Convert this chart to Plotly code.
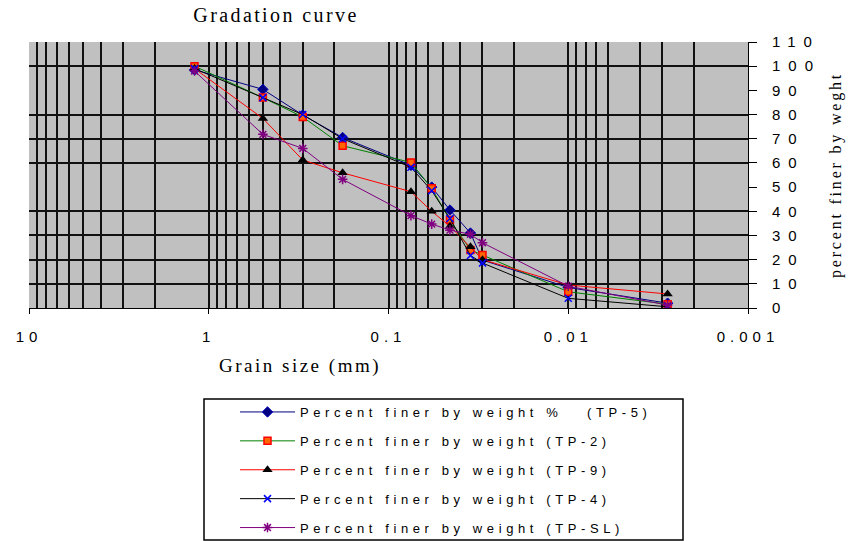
import plotly.graph_objects as go

# ---------------- data ----------------
grain_size_mm = [1.2, 0.5, 0.3, 0.18, 0.075, 0.0575, 0.0455, 0.035, 0.03, 0.01, 0.0028]
tp5 = [98.5, 90.4, 79.8, 70.5, 59.0, 50.0, 40.5, 31.0, 19.8, 8.5, 2.0]
tp2 = [100.0, 87.0, 79.0, 67.1, 60.2, 49.5, 36.4, 24.0, 21.9, 6.7, 1.6]
tp9 = [99.0, 78.4, 61.2, 55.9, 48.1, 40.0, 33.8, 25.3, 20.0, 9.5, 5.8]
tp4 = [99.0, 87.0, 80.0, 70.0, 58.2, 48.5, 37.0, 21.7, 18.6, 4.0, 0.5]
tpsl = [98.0, 71.8, 66.0, 53.2, 38.2, 34.7, 32.2, 30.5, 27.0, 9.0, 1.2]

series_names = [
    "Percent finer by weight %\u00a0\u00a0\u00a0(TP-5)",
    "Percent finer by weight (TP-2)",
    "Percent finer by weight (TP-9)",
    "Percent finer by weight (TP-4)",
    "Percent finer by weight (TP-SL)",
]

decade_ticks = [10, 1, 0.1, 0.01, 0.001]
decade_labels = ["10", "1", "0.1", "0.01", "0.001"]
y_ticks = list(range(0, 111, 10))
y_labels = [str(v) for v in y_ticks]

# gridlines (the reference lacks a few of them)
minor_grid_x = [k * 10.0 ** e for e in range(-3, 1) for k in range(2, 10)]
minor_grid_x = [v for v in minor_grid_x if abs(v - 0.005) > 1e-9]
grid_y = [v for v in y_ticks if v not in (50, 90)]


def spaced(s, px):
    return f'<span style="letter-spacing:{px}px">{s}</span>'


styles = [
    dict(line=dict(color="#000080", width=1),
         marker=dict(symbol="diamond", size=8, color="#000080",
                     line=dict(color="#0000c0", width=1))),
    dict(line=dict(color="#008000", width=1),
         marker=dict(symbol="square", size=7, color="#ff6600",
                     line=dict(color="#ff0000", width=1.5))),
    dict(line=dict(color="#ff0000", width=1),
         marker=dict(symbol="triangle-up", size=9, color="#000000",
                     line=dict(color="#000000", width=0))),
    dict(line=dict(color="#000000", width=1),
         marker=dict(symbol="x-thin-open", size=7, color="#0000ff",
                     line=dict(color="#0000ff", width=1.5))),
    dict(line=dict(color="#800080", width=1),
         marker=dict(symbol="asterisk-open", size=8, color="#800080",
                     line=dict(color="#800080", width=1.5))),
]

fig = go.Figure()
for i, (name, ys, st) in enumerate(zip(series_names, [tp5, tp2, tp9, tp4, tpsl], styles)):
    fig.add_trace(go.Scatter(
        x=grain_size_mm, y=ys, mode="lines+markers",
        name=spaced(name, 4.6), legendgroup=f"g{i}", **st,
    ))

# empty helper trace so the labelled right-hand axis is drawn
fig.add_trace(go.Scatter(x=[], y=[], yaxis="y2", showlegend=False, hoverinfo="skip"))

sans = "Liberation Sans, Arial, sans-serif"
serif = "Liberation Serif, Times New Roman, serif"
gridc = "#111111"

fig.update_layout(
    width=849, height=541,
    margin=dict(l=29, r=101, t=42, b=233, pad=0, autoexpand=False),
    paper_bgcolor="white",
    plot_bgcolor="#c0c0c0",
    showlegend=True,
    title=dict(text=spaced("Gradation curve", 2.4), x=276 / 849, xref="container",
               xanchor="center", y=1 - 15 / 541, yanchor="middle",
               font=dict(family=serif, size=20, color="black")),
    xaxis=dict(type="log", range=[1, -3],
               tickvals=decade_ticks,
               ticktext=[spaced(t, 5) for t in decade_labels],
               ticks="outside", ticklen=5, tickcolor="black", tickwidth=1,
               ticklabelstandoff=10,
               showline=True, linecolor="black", linewidth=1,
               showgrid=True, gridcolor=gridc, gridwidth=1.5, zeroline=False,
               minor=dict(tickvals=minor_grid_x, showgrid=True, gridcolor=gridc,
                          gridwidth=1.5, ticks=""),
               tickfont=dict(family=sans, size=15, color="black")),
    yaxis=dict(range=[0, 110], tickvals=grid_y, showticklabels=False, ticks="",
               showgrid=True, gridcolor=gridc, gridwidth=1.5,
               zeroline=False, showline=False),
    yaxis2=dict(range=[0, 110], overlaying="y", anchor="x", side="right",
                tickvals=y_ticks, ticktext=[spaced(t, 8) for t in y_labels],
                ticks="outside", ticklen=8, tickcolor="black", tickwidth=1,
                ticklabelstandoff=12,
                showline=True, linecolor="black", linewidth=1,
                showgrid=False, zeroline=False,
                tickfont=dict(family=sans, size=15, color="black")),
    legend=dict(xref="container", yref="container",
                x=235 / 849, xanchor="left", y=1 - 397 / 541, yanchor="top",
                bgcolor="rgba(0,0,0,0)", borderwidth=0, itemwidth=55,
                tracegroupgap=9, traceorder="grouped",
                font=dict(family=sans, size=13, color="black")),
    annotations=[
        dict(text=spaced("Grain size (mm)", 2.5), xref="paper", yref="paper",
             x=(300 - 29) / 719, y=(308 - 366) / 266, xanchor="center", yanchor="middle",
             showarrow=False, font=dict(family=serif, size=19, color="black")),
        dict(text=spaced("percent finer by weght", 2.8), xref="paper", yref="paper",
             x=(836 - 29) / 719, y=(308 - 175) / 266, xanchor="center", yanchor="middle",
             textangle=-90, showarrow=False,
             font=dict(family=serif, size=16, color="black")),
    ],
    shapes=[
        dict(type="rect", xref="paper", yref="paper",
             x0=(204 - 29) / 719, x1=(683 - 29) / 719,
             y0=(308 - 399) / 266, y1=(308 - 540) / 266,
             line=dict(color="black", width=1.5), fillcolor="rgba(0,0,0,0)"),
    ],
)

fig.write_html("out.html")
